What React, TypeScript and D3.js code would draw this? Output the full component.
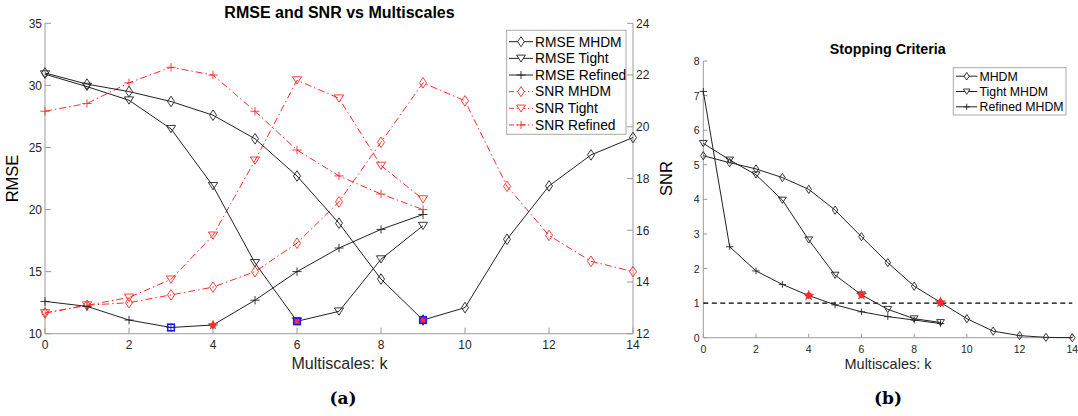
import React from "react";
import * as d3 from "d3";

// ---------- Data ----------
const kAll = [0, 1, 2, 3, 4, 5, 6, 7, 8, 9, 10, 11, 12, 13, 14];
const kTen = [0, 1, 2, 3, 4, 5, 6, 7, 8, 9];

const rmseMHDM = [31.0, 30.1, 29.5, 28.7, 27.6, 25.7, 22.7, 18.9, 14.4, 11.1, 12.1, 17.6, 21.9, 24.4, 25.8];
const rmseTight = [30.9, 29.9, 28.8, 26.5, 21.9, 15.7, 11.0, 11.8, 16.0, 18.7];
const rmseRefined = [12.6, 12.2, 11.1, 10.5, 10.7, 12.7, 15.0, 16.9, 18.4, 19.6];

const snrMHDM = [12.8, 13.1, 13.2, 13.5, 13.8, 14.4, 15.5, 17.1, 19.4, 21.7, 21.0, 17.7, 15.8, 14.8, 14.4];
const snrTight = [12.8, 13.1, 13.4, 14.1, 15.8, 18.7, 21.8, 21.1, 18.5, 17.2];
const snrRefined = [20.6, 20.9, 21.7, 22.3, 22.0, 20.6, 19.1, 18.1, 17.4, 16.8];

const stopMHDM = [5.26, 5.06, 4.88, 4.63, 4.29, 3.69, 2.92, 2.17, 1.49, 1.02, 0.55, 0.19, 0.06, 0.01, 0.0];
const stopTight = [5.62, 5.14, 4.71, 3.98, 2.83, 1.81, 1.24, 0.82, 0.55, 0.44];
const stopRefined = [7.12, 2.63, 1.93, 1.54, 1.22, 0.95, 0.75, 0.61, 0.51, 0.41];
const stopThreshold = 1;

const xTicks = [0, 2, 4, 6, 8, 10, 12, 14];
const rmseTicks = [10, 15, 20, 25, 30, 35];
const snrTicks = [12, 14, 16, 18, 20, 22, 24];
const stopTicks = [0, 1, 2, 3, 4, 5, 6, 7, 8];

// highlighted points (k index) on left chart
const blueHollowRefined = [3];
const redStarRefined = [4];
const blueRedTight = [6];
const blueRedMHDM = [9];
// red markers on right chart
const redStopRefined = [4];
const redStopTight = [6];
const redStopMHDM = [9];

const leftLegend = ["RMSE MHDM", "RMSE Tight", "RMSE Refined", "SNR MHDM", "SNR Tight", "SNR Refined"];
const rightLegend = ["MHDM", "Tight MHDM", "Refined MHDM"];

// ---------- Layout ----------
const W = 1078;
const H = 416;
const FONT = "'Liberation Sans', Arial, Helvetica, sans-serif";
const AXIS = "#9a9a9a";
const TXT = "#262626";
const LINE = "#222";
const RED = "#ff2a2a";
const DASHDOT = "7,3,1.5,3";

const L = { x0: 45, x1: 633, y0: 333.7, y1: 23.3 };
const R = { x0: 703.3, x1: 1072.3, y0: 337.7, y1: 61 };

const xL = d3.scaleLinear().domain([0, 14]).range([L.x0, L.x1]);
const yRMSE = d3.scaleLinear().domain([10, 35]).range([L.y0, L.y1]);
const ySNR = d3.scaleLinear().domain([12, 24]).range([L.y0, L.y1]);
const xR = d3.scaleLinear().domain([0, 14]).range([R.x0, R.x1]);
const yR = d3.scaleLinear().domain([0, 8]).range([R.y0, R.y1]);

type Mk = "diamond" | "tri" | "plus";

function markerPath(t: Mk, s: number): string {
  if (t === "diamond") {
    const w = 3.5 * s, h = 5.3 * s;
    return `M0,${-h}L${w},0L0,${h}L${-w},0Z`;
  }
  if (t === "tri") {
    const w = 4.6 * s, h = 3.4 * s;
    return `M${-w},${-h}L${w},${-h}L0,${h + 0.5 * s}Z`;
  }
  const w = 4.6 * s, h = 4.2 * s;
  return `M${-w},0H${w}M0,${-h}V${h}`;
}

function Series(props: {
  xs: number[];
  ys: number[];
  xS: d3.ScaleLinear<number, number>;
  yS: d3.ScaleLinear<number, number>;
  color: string;
  dash?: string;
  marker: Mk;
  ms: number;
}) {
  const { xs, ys, xS, yS, color, dash, marker, ms } = props;
  const line = d3
    .line<number>()
    .x((_, i) => xS(xs[i]))
    .y((d) => yS(d));
  const mp = markerPath(marker, ms);
  return (
    <g>
      <path d={line(ys) || ""} fill="none" stroke={color} strokeWidth={1} strokeDasharray={dash} />
      {ys.map((v, i) => (
        <path
          key={i}
          d={mp}
          transform={`translate(${xS(xs[i])},${yS(v)})`}
          fill="none"
          stroke={color}
          strokeWidth={0.9}
        />
      ))}
    </g>
  );
}

function RedStar({ x, y, r }: { x: number; y: number; r: number }) {
  const star = d3.symbol().type(d3.symbolStar).size(r * r * 3.2)();
  return (
    <g transform={`translate(${x},${y})`}>
      <circle r={r * 0.85} fill={RED} />
      <path d={star || ""} fill={RED} />
    </g>
  );
}

function BlueSquare({ x, y, fillRed }: { x: number; y: number; fillRed: boolean }) {
  return (
    <g transform={`translate(${x},${y})`}>
      <rect x={-3.3} y={-3.3} width={6.6} height={6.6} fill={fillRed ? RED : "none"} stroke="#1a1aff" strokeWidth={1.6} />
    </g>
  );
}

export default function App() {
  return (
    <svg
      width={W}
      height={H}
      style={{ position: "absolute", left: 0, top: 0, background: "#fff" }}
      fontFamily={FONT}
    >
      <rect x={0} y={0} width={W} height={H} fill="#fff" />

      {/* ========== LEFT CHART ========== */}
      <text x={339.5} y={18.3} textAnchor="middle" fontSize={16} fontWeight="bold" fill="#000">
        RMSE and SNR vs Multiscales
      </text>

      {/* axes */}
      <g stroke={AXIS} strokeWidth={1} fill="none">
        <line x1={L.x0} x2={L.x1} y1={L.y0} y2={L.y0} />
        <line x1={L.x0} x2={L.x0} y1={L.y0} y2={L.y1} />
        <line x1={L.x1} x2={L.x1} y1={L.y0} y2={L.y1} />
        {xTicks.map((t) => (
          <line key={"xt" + t} x1={xL(t)} x2={xL(t)} y1={L.y0} y2={L.y0 - 6} />
        ))}
        {rmseTicks.map((t) => (
          <line key={"yt" + t} x1={L.x0} x2={L.x0 + 6} y1={yRMSE(t)} y2={yRMSE(t)} />
        ))}
        {snrTicks.map((t) => (
          <line key={"st" + t} x1={L.x1} x2={L.x1 - 6} y1={ySNR(t)} y2={ySNR(t)} />
        ))}
      </g>
      <g fontSize={12} fill={TXT}>
        {xTicks.map((t) => (
          <text key={"xl" + t} x={xL(t)} y={348.5} textAnchor="middle">
            {t}
          </text>
        ))}
        {rmseTicks.map((t) => (
          <text key={"yl" + t} x={42} y={yRMSE(t) + 4.3} textAnchor="end">
            {t}
          </text>
        ))}
        {snrTicks.map((t) => (
          <text key={"sl" + t} x={636} y={ySNR(t) + 4.3} textAnchor="start">
            {t}
          </text>
        ))}
      </g>
      <text x={339.5} y={368.5} textAnchor="middle" fontSize={16} fill={TXT}>
        Multiscales: k
      </text>
      <text transform={`translate(17.5,${(L.y0 + L.y1) / 2}) rotate(-90)`} textAnchor="middle" fontSize={16.5} fill="#000">
        RMSE
      </text>
      <text transform={`translate(671.5,${(L.y0 + L.y1) / 2}) rotate(-90)`} textAnchor="middle" fontSize={16.5} fill="#000">
        SNR
      </text>

      {/* SNR series (red dash-dot) */}
      <Series xs={kAll} ys={snrMHDM} xS={xL} yS={ySNR} color={RED} dash={DASHDOT} marker="diamond" ms={1} />
      <Series xs={kTen} ys={snrTight} xS={xL} yS={ySNR} color={RED} dash={DASHDOT} marker="tri" ms={1} />
      <Series xs={kTen} ys={snrRefined} xS={xL} yS={ySNR} color={RED} dash={DASHDOT} marker="plus" ms={1} />

      {/* RMSE series (black solid) */}
      <Series xs={kAll} ys={rmseMHDM} xS={xL} yS={yRMSE} color={LINE} marker="diamond" ms={1} />
      <Series xs={kTen} ys={rmseTight} xS={xL} yS={yRMSE} color={LINE} marker="tri" ms={1} />
      <Series xs={kTen} ys={rmseRefined} xS={xL} yS={yRMSE} color={LINE} marker="plus" ms={1} />

      {/* highlights */}
      {blueHollowRefined.map((k) => (
        <BlueSquare key={"bh" + k} x={xL(k)} y={yRMSE(rmseRefined[k])} fillRed={false} />
      ))}
      {blueRedTight.map((k) => (
        <BlueSquare key={"bt" + k} x={xL(k)} y={yRMSE(rmseTight[k])} fillRed={true} />
      ))}
      {blueRedMHDM.map((k) => (
        <BlueSquare key={"bm" + k} x={xL(k)} y={yRMSE(rmseMHDM[k])} fillRed={true} />
      ))}
      {redStarRefined.map((k) => (
        <RedStar key={"rs" + k} x={xL(k)} y={yRMSE(rmseRefined[k])} r={3.3} />
      ))}

      {/* left legend */}
      <rect x={506.7} y={30.3} width={119.3} height={104} fill="#fff" stroke="#a8a8a8" strokeWidth={1} />
      {leftLegend.map((name, i) => {
        const y = 41.7 + i * 16.65;
        const red = i >= 3;
        const mk: Mk = (["diamond", "tri", "plus"] as Mk[])[i % 3];
        const col = red ? RED : LINE;
        return (
          <g key={name}>
            <line x1={509} x2={533} y1={y} y2={y} stroke={col} strokeWidth={1} strokeDasharray={red ? "5,2.5,1.5,2.5" : undefined} />
            <path d={markerPath(mk, 0.95)} transform={`translate(521,${y})`} fill="#fff" stroke={col} strokeWidth={0.9} />
            <text x={535} y={y + 4.8} fontSize={13.8} fill="#000">
              {name}
            </text>
          </g>
        );
      })}

      {/* ========== RIGHT CHART ========== */}
      <text x={887.8} y={54.3} textAnchor="middle" fontSize={14.3} fontWeight="bold" fill="#000">
        Stopping Criteria
      </text>
      <g stroke={AXIS} strokeWidth={1} fill="none">
        <line x1={R.x0} x2={R.x1} y1={R.y0} y2={R.y0} />
        <line x1={R.x0} x2={R.x0} y1={R.y0} y2={R.y1} />
        {xTicks.map((t) => (
          <line key={"rxt" + t} x1={xR(t)} x2={xR(t)} y1={R.y0} y2={R.y0 - 4} />
        ))}
        {stopTicks.map((t) => (
          <line key={"ryt" + t} x1={R.x0} x2={R.x0 + 4} y1={yR(t)} y2={yR(t)} />
        ))}
      </g>
      <g fontSize={10.5} fill={TXT}>
        {xTicks.map((t) => (
          <text key={"rxl" + t} x={xR(t)} y={352.5} textAnchor="middle">
            {t}
          </text>
        ))}
        {stopTicks.map((t) => (
          <text key={"ryl" + t} x={699.5} y={yR(t) + 4} textAnchor="end">
            {t}
          </text>
        ))}
      </g>
      <text x={888} y={368.5} textAnchor="middle" fontSize={14.5} fill={TXT}>
        Multiscales: k
      </text>

      {/* threshold */}
      <line x1={R.x0} x2={R.x1} y1={yR(stopThreshold)} y2={yR(stopThreshold)} stroke="#000" strokeWidth={1.4} strokeDasharray="5,3.5" />

      <Series xs={kAll} ys={stopMHDM} xS={xR} yS={yR} color={LINE} marker="diamond" ms={0.78} />
      <Series xs={kTen} ys={stopTight} xS={xR} yS={yR} color={LINE} marker="tri" ms={0.85} />
      <Series xs={kTen} ys={stopRefined} xS={xR} yS={yR} color={LINE} marker="plus" ms={0.8} />

      {redStopRefined.map((k) => (
        <RedStar key={"r1" + k} x={xR(k)} y={yR(stopRefined[k])} r={3.6} />
      ))}
      {redStopTight.map((k) => (
        <RedStar key={"r2" + k} x={xR(k)} y={yR(stopTight[k])} r={3.6} />
      ))}
      {redStopMHDM.map((k) => (
        <RedStar key={"r3" + k} x={xR(k)} y={yR(stopMHDM[k])} r={3.6} />
      ))}

      {/* right legend */}
      <rect x={953.3} y={67.7} width={112.7} height={47.3} fill="#fff" stroke="#a8a8a8" strokeWidth={1} />
      {rightLegend.map((name, i) => {
        const y = 76.2 + i * 15.3;
        const mk: Mk = (["diamond", "tri", "plus"] as Mk[])[i];
        return (
          <g key={name}>
            <line x1={956} x2={977.3} y1={y} y2={y} stroke={LINE} strokeWidth={1} />
            <path d={markerPath(mk, 0.72)} transform={`translate(966.7,${y})`} fill="#fff" stroke={LINE} strokeWidth={0.9} />
            <text x={979.5} y={y + 4.3} fontSize={12.3} fill="#000">
              {name}
            </text>
          </g>
        );
      })}

      {/* captions */}
      <text x={343} y={403.5} textAnchor="middle" fontSize={17} fontWeight="bold" fontFamily="'DejaVu Serif', 'Liberation Serif', serif" fill="#000">
        (a)
      </text>
      <text x={888} y={403.5} textAnchor="middle" fontSize={17} fontWeight="bold" fontFamily="'DejaVu Serif', 'Liberation Serif', serif" fill="#000">
        (b)
      </text>
    </svg>
  );
}
